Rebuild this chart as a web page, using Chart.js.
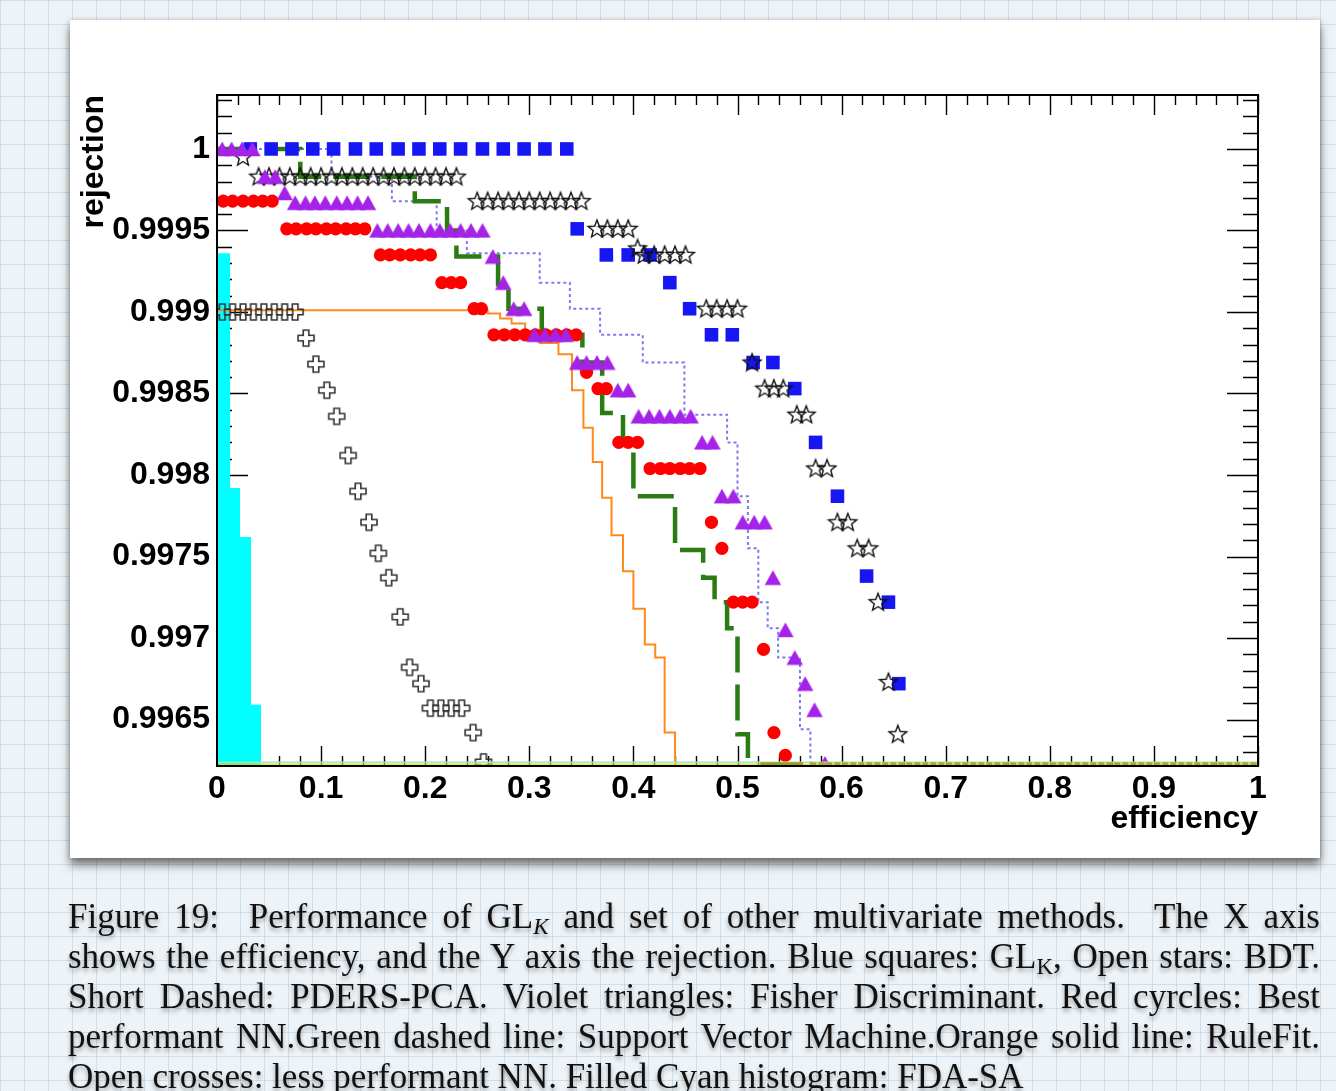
<!DOCTYPE html>
<html>
<head>
<meta charset="utf-8">
<script src="https://cdn.jsdelivr.net/npm/chart.js@4.4.1/dist/chart.umd.min.js"></script>
<style>
html, body { margin: 0; padding: 0; }
body {
  width: 1336px; height: 1091px; position: relative; overflow: hidden;
  background-color: #eef3f7;
  background-image:
    linear-gradient(to right, rgba(150,185,210,0.35) 1px, transparent 1px),
    linear-gradient(to bottom, rgba(150,185,210,0.35) 1px, transparent 1px);
  background-size: 24px 24px;
}
#card {
  position: absolute; left: 70px; top: 20px; width: 1250px; height: 838px;
  background: #fff;
  box-shadow: 0 7px 9px rgba(0,0,0,0.5), 0 0 5px rgba(0,0,0,0.2);
}
#plot { position: absolute; left: 0; top: 0; }
#caption {
  position: absolute; left: 68px; top: 897px; width: 1252px;
  font-family: "Liberation Serif", "DejaVu Serif", serif;
  font-size: 35px; line-height: 40px; color: #111;
  text-shadow: 0 3px 4px rgba(0,0,0,0.35);
}
#caption .ln { text-align: justify; text-align-last: justify; white-space: nowrap; }
#caption .ln.last { text-align: left; text-align-last: left; }
#caption sub { font-size: 0.66em; line-height: 0; vertical-align: -0.28em; }
</style>
</head>
<body>
<div id="card"></div>
<canvas id="plot" width="1336" height="1091"></canvas>
<div id="caption">
  <div class="ln">Figure 19:&nbsp; Performance of GL<sub><i>K</i></sub> and set of other multivariate methods.&nbsp; The X axis</div>
  <div class="ln">shows the efficiency, and the Y axis the rejection. Blue squares: GL<sub>K</sub>, Open stars: BDT.</div>
  <div class="ln">Short Dashed: PDERS-PCA. Violet triangles: Fisher Discriminant. Red cyrcles: Best</div>
  <div class="ln">performant NN.Green dashed line: Support Vector Machine.Orange solid line: RuleFit.</div>
  <div class="ln last">Open crosses: less performant NN. Filled Cyan histogram: FDA-SA</div>
</div>
<script>
// Axis ticks
const xTickValues = [0, 0.1, 0.2, 0.3, 0.4, 0.5, 0.6, 0.7, 0.8, 0.9, 1];
const xTickLabels = ['0', '0.1', '0.2', '0.3', '0.4', '0.5', '0.6', '0.7', '0.8', '0.9', '1'];
const yTickValues = [0.9965, 0.997, 0.9975, 0.998, 0.9985, 0.999, 0.9995, 1];
const yTickLabels = ['0.9965', '0.997', '0.9975', '0.998', '0.9985', '0.999', '0.9995', '1'];

// GL_K (blue squares)
const glkEff = [0.032, 0.052, 0.072, 0.092, 0.112, 0.133, 0.153, 0.174, 0.194, 0.214, 0.234, 0.255, 0.275, 0.295, 0.315, 0.336,
  0.346, 0.374, 0.395, 0.416, 0.435, 0.454, 0.475, 0.495, 0.515, 0.534, 0.555, 0.575, 0.596, 0.624, 0.645, 0.655];
const glkRej = [1, 1, 1, 1, 1, 1, 1, 1, 1, 1, 1, 1, 1, 1, 1, 1,
  0.99951, 0.99935, 0.99935, 0.99935, 0.99918, 0.99902, 0.99886, 0.99886, 0.99869, 0.99869, 0.99853, 0.99820, 0.99787, 0.99738, 0.99722, 0.99672];

// BDT (open stars)
const bdtEff = [0.025,
  0.04, 0.05, 0.06, 0.07, 0.08, 0.09, 0.10, 0.11, 0.12, 0.13, 0.14, 0.15, 0.16, 0.17, 0.18, 0.19, 0.20, 0.21, 0.22, 0.23,
  0.25, 0.26, 0.27, 0.28, 0.29, 0.30, 0.31, 0.32, 0.33, 0.34, 0.35,
  0.365, 0.375, 0.385, 0.395, 0.404, 0.41, 0.42, 0.43, 0.44, 0.45,
  0.47, 0.48, 0.49, 0.50, 0.514, 0.526, 0.535, 0.544, 0.557, 0.566, 0.575, 0.586, 0.596, 0.606, 0.615, 0.626,
  0.635, 0.645, 0.654];
const bdtRej = [0.99995,
  0.99983, 0.99983, 0.99983, 0.99983, 0.99983, 0.99983, 0.99983, 0.99983, 0.99983, 0.99983, 0.99983, 0.99983, 0.99983, 0.99983, 0.99983, 0.99983, 0.99983, 0.99983, 0.99983, 0.99983,
  0.99968, 0.99968, 0.99968, 0.99968, 0.99968, 0.99968, 0.99968, 0.99968, 0.99968, 0.99968, 0.99968,
  0.99951, 0.99951, 0.99951, 0.99951, 0.99939, 0.99935, 0.99935, 0.99935, 0.99935, 0.99935,
  0.99902, 0.99902, 0.99902, 0.99902, 0.99869, 0.99853, 0.99853, 0.99853, 0.99837, 0.99837, 0.99804, 0.99804, 0.99771, 0.99771, 0.99755, 0.99755,
  0.99722, 0.99673, 0.99641];

// Fisher discriminant (violet triangles)
const fisherEff = [0.005, 0.014, 0.024, 0.034, 0.046, 0.056, 0.065,
  0.075, 0.085, 0.094, 0.104, 0.115, 0.125, 0.135, 0.145,
  0.154, 0.164, 0.174, 0.184, 0.194, 0.205, 0.214, 0.224, 0.234, 0.244, 0.255,
  0.265, 0.275, 0.285, 0.295, 0.305, 0.315, 0.325, 0.335, 0.346, 0.355, 0.365, 0.375, 0.385, 0.395,
  0.405, 0.415, 0.425, 0.435, 0.445, 0.455, 0.466, 0.476, 0.485, 0.496, 0.505, 0.516, 0.526,
  0.534, 0.546, 0.555, 0.565, 0.574, 0.584];
const fisherRej = [1, 1, 1, 1, 0.99983, 0.99983, 0.99973,
  0.99967, 0.99967, 0.99967, 0.99967, 0.99967, 0.99967, 0.99967, 0.99967,
  0.99950, 0.99950, 0.99950, 0.99950, 0.99950, 0.99950, 0.99950, 0.99950, 0.99950, 0.99950, 0.99950,
  0.99934, 0.99918, 0.99902, 0.99902, 0.99886, 0.99886, 0.99886, 0.99886, 0.99869, 0.99869, 0.99869, 0.99869, 0.99852, 0.99852,
  0.99836, 0.99836, 0.99836, 0.99836, 0.99836, 0.99836, 0.99820, 0.99820, 0.99787, 0.99787, 0.99771, 0.99771, 0.99771,
  0.99737, 0.99705, 0.99688, 0.99672, 0.99656, 0.99623];

// Best performant NN (red circles)
const nnBestEff = [0.006, 0.015, 0.025, 0.035, 0.044, 0.053,
  0.067, 0.076, 0.086, 0.095, 0.105, 0.114, 0.124, 0.133, 0.142,
  0.157, 0.166, 0.176, 0.186, 0.195, 0.205, 0.216, 0.225, 0.234, 0.247, 0.254,
  0.266, 0.276, 0.286, 0.296, 0.306, 0.316, 0.326, 0.336, 0.345,
  0.355, 0.366, 0.374, 0.386, 0.395, 0.404, 0.416, 0.426, 0.435, 0.445, 0.454, 0.464,
  0.475, 0.485, 0.496, 0.505, 0.514, 0.525, 0.535, 0.546];
const nnBestRej = [0.99968, 0.99968, 0.99968, 0.99968, 0.99968, 0.99968,
  0.99951, 0.99951, 0.99951, 0.99951, 0.99951, 0.99951, 0.99951, 0.99951, 0.99951,
  0.99935, 0.99935, 0.99935, 0.99935, 0.99935, 0.99935, 0.99918, 0.99918, 0.99918, 0.99902, 0.99902,
  0.99886, 0.99886, 0.99886, 0.99886, 0.99886, 0.99886, 0.99886, 0.99886, 0.99886,
  0.99863, 0.99853, 0.99853, 0.99820, 0.99820, 0.99820, 0.99804, 0.99804, 0.99804, 0.99804, 0.99804, 0.99804,
  0.99771, 0.99755, 0.99722, 0.99722, 0.99722, 0.99693, 0.99642, 0.99628];

// Less performant NN (open crosses)
const nnLessEff = [0.005, 0.015, 0.025, 0.035, 0.045, 0.055, 0.065, 0.075,
  0.0855, 0.095, 0.1055, 0.115, 0.126, 0.1355, 0.146, 0.155, 0.165, 0.176, 0.185, 0.196,
  0.205, 0.215, 0.225, 0.235, 0.246, 0.256];
const nnLessRej = [0.999, 0.999, 0.999, 0.999, 0.999, 0.999, 0.999, 0.999,
  0.99884, 0.99868, 0.99852, 0.99836, 0.99812, 0.99790, 0.99771, 0.99752, 0.99737, 0.99713, 0.99682, 0.99672,
  0.99657, 0.99657, 0.99657, 0.99657, 0.99642, 0.99624];

// Support Vector Machine (green dashed step curve)
const svmEff = [0, 0.080, 0.190, 0.221, 0.230, 0.270, 0.280, 0.312, 0.351, 0.370, 0.390, 0.400, 0.440, 0.467, 0.478, 0.490, 0.500, 0.510];
const svmRej = [1, 0.99983, 0.99968, 0.99950, 0.99934, 0.99917, 0.99902, 0.99886, 0.99869, 0.99838, 0.99820, 0.99787, 0.99754, 0.99737, 0.99722, 0.99706, 0.99641, 0.99620];

// RuleFit (orange solid step curve)
const ruleEff = [0, 0.260, 0.272, 0.283, 0.296, 0.310, 0.328, 0.341, 0.352, 0.361, 0.370, 0.379, 0.390, 0.400, 0.411, 0.421, 0.430, 0.440];
const ruleRej = [0.99901, 0.99899, 0.99896, 0.99893, 0.99888, 0.99881, 0.99874, 0.99852, 0.99829, 0.99808, 0.99786, 0.99763, 0.99741, 0.99718, 0.99696, 0.99688, 0.99642, 0.99620];

// PDERS-PCA (short dashed step curve)
const pdersEff = [0, 0.110, 0.168, 0.211, 0.240, 0.310, 0.339, 0.368, 0.409, 0.449, 0.490, 0.500, 0.510, 0.520, 0.529, 0.539, 0.560, 0.570];
const pdersRej = [1, 0.99983, 0.99968, 0.99950, 0.99936, 0.99918, 0.99902, 0.99886, 0.99869, 0.99837, 0.99820, 0.99787, 0.99755, 0.99722, 0.99706, 0.99688, 0.99644, 0.99620];

// FDA-SA (filled cyan histogram, bin edges and contents)
const fdaEff = [0, 0.0125, 0.0221, 0.0327, 0.0423];
const fdaRej = [0.99936, 0.99792, 0.99762, 0.99659, 0.99620];

// Curves lying on the lower edge of the frame
const floorGreenEff = [0, 1];
const floorGreenRej = [0.996236, 0.996236];
const floorYellowEff = [0, 1];
const floorYellowRej = [0.996217, 0.996217];
const floorOliveEff = [0.522, 0.563];
const floorOliveRej = [0.996225, 0.996225];
const floorDashEff = [0.570, 1];
const floorDashRej = [0.996225, 0.996225];

const Y_MIN = 0.996215, Y_MAX = 1.000331;

function pts(xs, ys) { return xs.map((x, i) => ({ x: x, y: ys[i] })); }

// ROOT-like marker glyphs
function starMarker() {
  const c = document.createElement('canvas'); c.width = 22; c.height = 22;
  const g = c.getContext('2d'); g.translate(11, 11.5);
  g.beginPath();
  for (let k = 0; k < 10; k++) {
    const r = k % 2 ? 4.0 : 9.3;
    const a = -Math.PI / 2 + k * Math.PI / 5;
    g.lineTo(r * Math.cos(a), r * Math.sin(a));
  }
  g.closePath(); g.strokeStyle = '#111'; g.lineWidth = 1.4; g.stroke();
  return c;
}
function crossMarker() {
  const c = document.createElement('canvas'); c.width = 20; c.height = 20;
  const g = c.getContext('2d'); g.translate(10, 10);
  const L = 8, a = 2.8;
  const p = [[-a,-L],[a,-L],[a,-a],[L,-a],[L,a],[a,a],[a,L],[-a,L],[-a,a],[-L,a],[-L,-a],[-a,-a]];
  g.beginPath(); p.forEach((q, i) => i ? g.lineTo(q[0], q[1]) : g.moveTo(q[0], q[1]));
  g.closePath(); g.strokeStyle = '#333'; g.lineWidth = 1.6; g.stroke();
  return c;
}
function triangleMarker() {
  const c = document.createElement('canvas'); c.width = 18; c.height = 16;
  const g = c.getContext('2d');
  g.beginPath(); g.moveTo(9, 0.5); g.lineTo(17.2, 15.2); g.lineTo(0.8, 15.2); g.closePath();
  g.fillStyle = '#a522e8'; g.fill();
  return c;
}

// Frame and inward ticks on all four sides
const frameTicks = {
  id: 'frameTicks',
  beforeDatasetsDraw(chart) {
    const { ctx, chartArea: a, scales: { x, y } } = chart;
    ctx.save();
    ctx.strokeStyle = '#000'; ctx.lineWidth = 1.4;
    ctx.beginPath();
    for (let i = 0; i <= 50; i++) {
      const px = Math.round(x.getPixelForValue(i / 50)) + 0.5;
      const len = i % 5 === 0 ? 20 : 10;
      ctx.moveTo(px, a.bottom); ctx.lineTo(px, a.bottom - len);
      ctx.moveTo(px, a.top); ctx.lineTo(px, a.top + len);
    }
    for (let i = 9963; i <= 10003; i++) {
      const py = Math.round(y.getPixelForValue(i / 10000)) + 0.5;
      const len = i % 5 === 0 ? 31 : 15;
      ctx.moveTo(a.left, py); ctx.lineTo(a.left + len, py);
      ctx.moveTo(a.right, py); ctx.lineTo(a.right - len, py);
    }
    ctx.stroke();
    ctx.restore();
  },
  afterDatasetsDraw(chart) {
    const { ctx, chartArea: a } = chart;
    ctx.save();
    ctx.strokeStyle = '#000'; ctx.lineWidth = 2;
    ctx.strokeRect(a.left, a.top, a.right - a.left, a.bottom - a.top);
    ctx.restore();
  }
};

const axisFont = { family: '"Liberation Sans", Arial, sans-serif', size: 32, weight: 'bold' };

function stepLine(label, xs, ys, color, width, dash, order) {
  return {
    type: 'line', label: label, data: pts(xs, ys), stepped: 'before',
    borderColor: color, borderWidth: width, borderDash: dash, borderCapStyle: 'butt',
    pointRadius: 0, fill: false, order: order
  };
}

new Chart(document.getElementById('plot'), {
  type: 'scatter',
  data: {
    datasets: [
      stepLine('floor olive', floorOliveEff, floorOliveRej, '#9f9a1e', 4, [], 1),
      stepLine('floor dashed', floorDashEff, floorDashRej, '#b3a42a', 4, [6, 2], 1),
      stepLine('floor yellow', floorYellowEff, floorYellowRej, '#f2d000', 3, [], 1),
      stepLine('floor green', floorGreenEff, floorGreenRej, '#a6e8a6', 2, [], 1),
      { label: 'less performant NN', data: pts(nnLessEff, nnLessRej), pointStyle: crossMarker(), pointRadius: 8, order: 2 },
      { label: 'Fisher Discriminant', data: pts(fisherEff, fisherRej), pointStyle: triangleMarker(), pointRadius: 8, order: 3 },
      { label: 'Best performant NN', data: pts(nnBestEff, nnBestRej), pointStyle: 'circle', pointRadius: 6.6,
        backgroundColor: '#ff0000', borderWidth: 0, order: 4 },
      { label: 'BDT', data: pts(bdtEff, bdtRej), pointStyle: starMarker(), pointRadius: 9, order: 5 },
      { label: 'GL_K', data: pts(glkEff, glkRej), pointStyle: 'rect', pointRadius: 9.6,
        backgroundColor: '#1616f2', borderWidth: 0, order: 6 },
      stepLine('Support Vector Machine', svmEff, svmRej, '#2a7c12', 4.5, [36, 12], 7),
      stepLine('PDERS-PCA', pdersEff, pdersRej, '#7b7bf0', 2, [3, 3], 8),
      stepLine('RuleFit', ruleEff, ruleRej, '#ff8a1c', 2, [], 9),
      { type: 'line', label: 'FDA-SA', data: pts(fdaEff, fdaRej), stepped: 'before',
        borderWidth: 0, borderColor: 'rgba(0,0,0,0)', backgroundColor: '#00ffff',
        fill: 'start', pointRadius: 0, order: 10 }
    ]
  },
  options: {
    responsive: false,
    animation: false,
    events: [],
    layout: { padding: { left: 72, right: 78, top: 95, bottom: 249 } },
    plugins: { legend: { display: false }, tooltip: { enabled: false } },
    scales: {
      x: {
        type: 'linear', min: 0, max: 1,
        grid: { display: false, drawTicks: false },
        border: { display: false },
        afterBuildTicks: (s) => { s.ticks = xTickValues.map(v => ({ value: v })); },
        afterFit: (s) => { s.height = 76; },
        ticks: { autoSkip: false, maxRotation: 0, padding: 4, color: '#000', font: axisFont,
          callback: (v, i) => xTickLabels[i] },
        title: { display: true, text: 'efficiency', align: 'end', color: '#000', font: axisFont,
          padding: { top: 0, bottom: 4 } }
      },
      y: {
        type: 'linear', min: Y_MIN, max: Y_MAX,
        grid: { display: false, drawTicks: false },
        border: { display: false },
        afterBuildTicks: (s) => { s.ticks = yTickValues.map(v => ({ value: v })); },
        afterFit: (s) => { s.width = 145; },
        ticks: { autoSkip: false, padding: 7, color: '#000', font: axisFont,
          callback: (v, i) => yTickLabels[i] },
        title: { display: true, text: 'rejection', align: 'end', color: '#000', font: axisFont,
          padding: { top: 3, bottom: 0 } }
      }
    }
  },
  plugins: [frameTicks]
});
</script>
</body>
</html>
